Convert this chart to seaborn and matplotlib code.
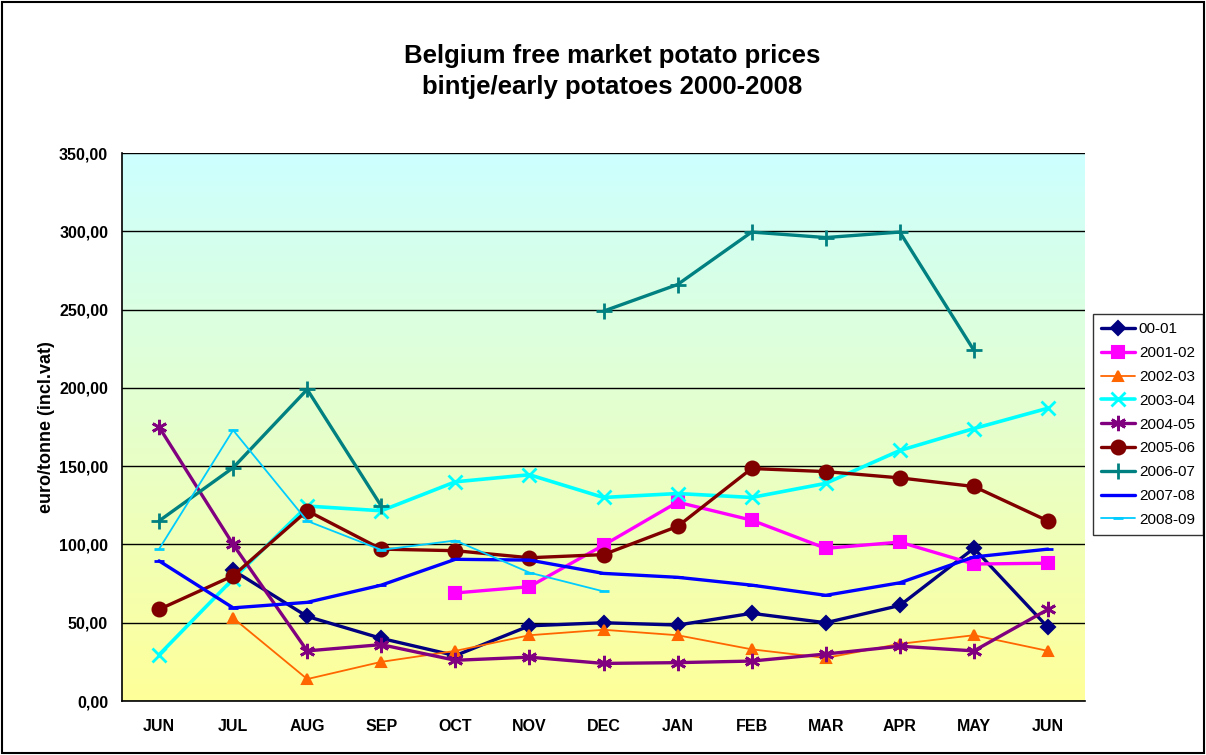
import numpy as np
import pandas as pd
import matplotlib
matplotlib.use("Agg")
import matplotlib.pyplot as plt
import seaborn as sns
from matplotlib.ticker import FuncFormatter, FixedLocator
from matplotlib.patches import Rectangle

months = ["JUN", "JUL", "AUG", "SEP", "OCT", "NOV", "DEC", "JAN", "FEB", "MAR", "APR", "MAY", "JUN"]
nan = np.nan

s_00_01 = [nan, 83.5, 54, 40, 29, 48, 50, 48.5, 56, 50, 61, 97.5, 47]
s_2001_02 = [nan, nan, nan, nan, 69, 73, 99.5, 127, 115.5, 97.5, 101.5, 87.5, 88]
s_2002_03 = [nan, 53, 14, 25, 32, 42, 45.5, 42, 33, 27.5, 36.5, 42, 32]
s_2003_04 = [29.5, 78, 124.5, 121.5, 140, 144.5, 130, 132.5, 130, 139, 160, 174, 187]
s_2004_05 = [175, 100, 32, 36, 26, 28, 24, 24.5, 25.5, 30, 35, 32, 58.5]
s_2005_06 = [58.5, 80, 121.5, 97, 96, 91.5, 93.5, 111.5, 148.5, 146.5, 142.5, 137, 115]
s_2006_07 = [115, 149, 199, 124.5, nan, nan, 249, 266, 299.5, 296, 299.5, 224, nan]
s_2007_08 = [89.5, 59.5, 63, 74, 90.5, 90, 81.5, 79, 74, 67.5, 75.5, 92, 97]
s_2008_09 = [97, 173, 115, 96.5, 102.5, 82, 70, nan, nan, nan, nan, nan, nan]

series = [
    ("00-01", s_00_01, "#000080", "D", 7, 2.4),
    ("2001-02", s_2001_02, "#FF00FF", "s", 9, 2.4),
    ("2002-03", s_2002_03, "#FF6600", "^", 7, 1.3),
    ("2003-04", s_2003_04, "#00FFFF", "x", 10, 2.6),
    ("2004-05", s_2004_05, "#800080", (6, 2, 0), 11, 2.4),
    ("2005-06", s_2005_06, "#800000", "o", 10, 2.4),
    ("2006-07", s_2006_07, "#008080", "+", 11, 2.4),
    ("2007-08", s_2007_08, "#0000FF", "_", 7, 2.4),
    ("2008-09", s_2008_09, "#00CCFF", "_", 7, 1.3),
]

sns.set_style("white")
plt.rcParams["font.family"] = ["Liberation Sans", "DejaVu Sans"]
plt.rcParams["text.color"] = "black"
plt.rcParams["axes.labelcolor"] = "black"
plt.rcParams["xtick.color"] = "black"
plt.rcParams["ytick.color"] = "black"

fig = plt.figure(figsize=(12.06, 7.55), dpi=100)
ax = fig.add_axes([122 / 1206, 1 - 701 / 755, (1085 - 122) / 1206, (701 - 153) / 755])

# gradient background
grad = np.linspace(0, 1, 256).reshape(-1, 1)
top = np.array([0xCC, 0xFF, 0xFF]) / 255
bot = np.array([0xFF, 0xFF, 0x99]) / 255
img = bot[None, None, :] * (1 - grad[:, :, None]) + top[None, None, :] * grad[:, :, None]
ax.imshow(img, extent=[0, 1, 0, 1], transform=ax.transAxes, origin="lower",
          aspect="auto", zorder=0)

x = np.arange(len(months))
for name, vals, color, marker, ms, lw in series:
    v = np.array(vals, dtype=float)
    mask = ~np.isnan(v)
    idx = np.where(mask)[0]
    segs = np.split(idx, np.where(np.diff(idx) > 1)[0] + 1)
    for k, seg in enumerate(segs):
        df = pd.DataFrame({"x": x[seg], "y": v[seg]})
        sns.lineplot(data=df, x="x", y="y", ax=ax, color=color, marker=marker,
                     markersize=ms, linewidth=lw, markeredgecolor=color,
                     markeredgewidth=1.5 if marker not in ("x", "+", "_", (6, 2, 0)) else 2,
                     label=name if k == 0 else "_nolegend_", zorder=3)

ax.set_xlim(-0.5, 12.5)
ax.set_ylim(0, 350)
ax.set_yticks(np.arange(0, 351, 50))
ax.yaxis.set_major_formatter(FuncFormatter(lambda v, p: f"{v:.2f}".replace(".", ",")))
ax.set_xticks(x)
ax.set_xticklabels(months)
ax.xaxis.set_minor_locator(FixedLocator(np.arange(-0.5, 13, 1)))
ax.tick_params(axis="x", which="major", length=0, pad=13, labelsize=11.5)
ax.tick_params(axis="x", which="minor", length=5, width=1, color="black", direction="out")
ax.tick_params(axis="y", which="major", length=6, width=1, color="black", direction="out",
               labelsize=11.5, pad=4)
for lab in ax.get_xticklabels() + ax.get_yticklabels():
    lab.set_fontweight("bold")
ax.grid(axis="y", color="black", linewidth=1)
for g in ax.get_ygridlines():
    g.set_zorder(1)
ax.set_xlabel("")
ax.set_ylabel("euro/tonne (incl.vat)", fontsize=13, fontweight="bold", labelpad=3)
for s in ["top", "right"]:
    ax.spines[s].set_visible(False)
for s in ["left", "bottom"]:
    ax.spines[s].set_color("black")
    ax.spines[s].set_linewidth(1.2)

fig.text(612 / 1206, 1 - 56 / 755, "Belgium free market potato prices", ha="center",
         va="center", fontsize=18.5, fontweight="bold")
fig.text(612 / 1206, 1 - 87 / 755, "bintje/early potatoes 2000-2008", ha="center",
         va="center", fontsize=18.5, fontweight="bold")

leg = ax.legend(loc="upper left", bbox_to_anchor=(1093 / 1206, 1 - 314 / 755),
                bbox_transform=fig.transFigure, frameon=True, fancybox=False,
                fontsize=11, handlelength=2.2, borderpad=0.55, labelspacing=0.64,
                handletextpad=0.25, borderaxespad=0)
leg.get_frame().set_edgecolor("black")
leg.get_frame().set_linewidth(1)

fig.patches.append(Rectangle((0.002, 0.002), 0.996, 0.996, transform=fig.transFigure,
                             fill=False, edgecolor="black", linewidth=1.5))

fig.savefig("out.png", dpi=100)
